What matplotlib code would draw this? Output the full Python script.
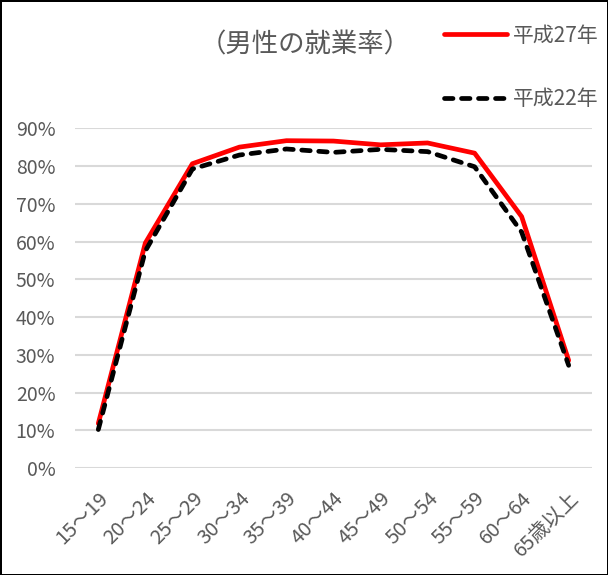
import matplotlib.pyplot as plt
from matplotlib.ticker import PercentFormatter

plt.rcParams['font.family'] = ['Noto Sans CJK JP', 'DejaVu Sans']

age_groups = ["15～19", "20～24", "25～29", "30～34", "35～39", "40～44",
              "45～49", "50～54", "55～59", "60～64", "65歳以上"]
h27 = [11.8, 59.6, 80.6, 85.0, 86.7, 86.6, 85.6, 86.1, 83.4, 66.6, 28.5]
h22 = [10.2, 57.5, 79.2, 82.9, 84.5, 83.6, 84.4, 83.8, 79.8, 62.5, 27.2]
labels = ["平成27年", "平成22年"]

grey = "#595959"

fig = plt.figure(figsize=(6.08, 5.75), dpi=100)
fig.patch.set_edgecolor("black")
fig.patch.set_linewidth(2)
ax = fig.add_axes([0.123, 0.186, 0.851, 0.591])

x = list(range(len(age_groups)))
ax.plot(x, h27, color="#ff0000", lw=3.4, solid_capstyle="round", label=labels[0], zorder=3)
ax.plot(x, h22, color="black", lw=3.4, ls=(0, (1.8, 1.8)), dash_capstyle="round",
        label=labels[1], zorder=4)

ax.set_xlim(-0.5, len(age_groups) - 0.5)
ax.set_ylim(0, 90)
ax.set_yticks(range(0, 91, 10))
ax.yaxis.set_major_formatter(PercentFormatter(decimals=0))
ax.grid(axis="y", color="#d9d9d9", lw=1.5)
ax.set_axisbelow(True)
for s in ax.spines.values():
    s.set_visible(False)
ax.tick_params(length=0, colors=grey, labelsize=14)
ax.tick_params(axis="y", pad=14)
ax.tick_params(axis="x", pad=14, labelsize=14.5)
ax.set_xticks(x)
ax.set_xticklabels(age_groups, rotation=45, ha="right", va="top", rotation_mode="anchor")

fig.text(0.502, 0.922, "（男性の就業率）", ha="center", va="center", fontsize=19, color=grey)

fig.legend(loc="upper left", bbox_to_anchor=(0.70, 0.99), frameon=False,
           fontsize=15, handlelength=3.0, handletextpad=0.3, labelspacing=2.0,
           labelcolor=grey)

fig.savefig("out.png", dpi=100)
